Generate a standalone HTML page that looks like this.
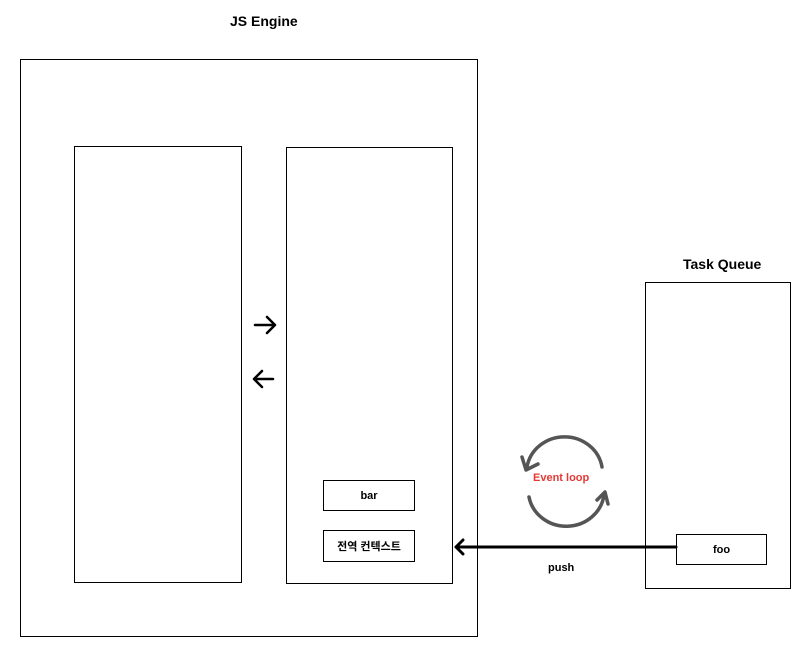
<!DOCTYPE html>
<html><head><meta charset="utf-8"><style>
body{margin:0;width:812px;height:660px;background:#fff;position:relative;font-family:"Liberation Sans","Noto Sans CJK KR",sans-serif;overflow:hidden}
.b{position:absolute;border:1px solid #000;box-sizing:border-box}
.t{position:absolute;font-weight:bold;color:#000;white-space:nowrap}
.c{display:flex;align-items:center;justify-content:center;font-size:11px;font-weight:bold}
</style></head><body>
<div class="t" style="left:230px;top:13px;font-size:14px">JS Engine</div>
<div class="t" style="left:683px;top:256px;font-size:14px">Task Queue</div>
<div class="b" style="left:20px;top:59px;width:458px;height:578px"></div>
<div class="b" style="left:74px;top:146px;width:168px;height:437px"></div>
<div class="b" style="left:286px;top:147px;width:167px;height:437px"></div>
<div class="b c" style="left:323px;top:480px;width:92px;height:31px">bar</div>
<div class="b c" style="left:323px;top:530px;width:92px;height:32px">전역 컨텍스트</div>
<div class="b" style="left:645px;top:282px;width:146px;height:307px"></div>
<div class="b c" style="left:676px;top:534px;width:91px;height:31px">foo</div>
<div class="t" style="left:548px;top:562px;font-size:11px">push</div>
<div class="t" style="left:533px;top:472px;font-size:11px;color:#e53935">Event loop</div>
<svg width="812" height="660" style="position:absolute;left:0;top:0">
<g stroke="#000" stroke-width="2.5" fill="none" stroke-linecap="round" stroke-linejoin="round">
<path d="M255 325H274M267 317L275 325L267 333"/>
<path d="M273 379H254M262 371L254 379L262 387"/>
<path d="M676 547H456M463 540L456 547L463 554" stroke-width="3"/>
</g>
<g stroke="#555" stroke-width="3.5" fill="none" stroke-linecap="round" stroke-linejoin="round">
<path d="M602 467A38 36 0 0 0 527 467"/>
<path d="M522 457L526 470L538 464"/>
<path d="M529 497A38 36 0 0 0 604 495"/>
<path d="M597 500L605 492L608 504"/>
</g>
</svg>
</body></html>
